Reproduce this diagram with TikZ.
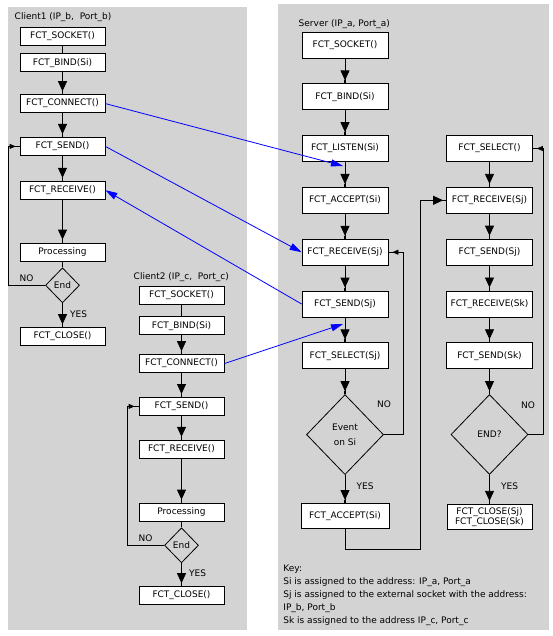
\documentclass[tikz,border=0pt]{standalone}
\usepackage{fontspec}
\setmainfont{DejaVu Sans}
\usetikzlibrary{shapes.geometric, arrows.meta, positioning}
\definecolor{panel}{RGB}{211,211,211}
\tikzset{
  cbox/.style={draw, fill=white, minimum width=85pt, minimum height=18pt, inner sep=1pt},
  sbox/.style={draw, fill=white, minimum width=86pt, minimum height=26pt, inner sep=1pt},
  cond/.style={diamond, draw, inner sep=0pt, align=center},
  flow/.style={draw, -{Triangle[width=9pt,length=10pt,sep=0pt]Rectangle[width=0.4pt,length=3pt]}},
  back/.style={draw, -{Triangle[width=5pt,length=6pt,sep=0pt]Rectangle[width=0.4pt,length=4pt]}},
  msg/.style={draw=blue, -{Triangle[width=7pt,length=12pt]}}
}

\begin{document}
\begin{tikzpicture}[x=1pt, y=-1pt, node distance=25pt, line width=0.8pt,
    font=\fontsize{9}{11}\selectfont]
    \useasboundingbox (0,0) rectangle (552,636);
    % Panels
    \fill[panel] (8,7) rectangle (247,630);
    \fill[panel] (278,4) rectangle (549,630);

    % Client1
    \node [anchor=west] (c1title) at (11,17) {Client1 (IP\_b, \ Port\_b)};
    \node [cbox] (c1sock) at (62.5,36) {FCT\_SOCKET()};
    \node [cbox, below=8pt of c1sock] (c1bind) {FCT\_BIND(Si)};
    \node [cbox, below=22pt of c1bind] (c1conn) {FCT\_CONNECT()};
    \node [cbox, below=24pt of c1conn] (c1send) {FCT\_SEND()};
    \node [cbox, below=25pt of c1send] (c1recv) {FCT\_RECEIVE()};
    \node [cbox, below=43pt of c1recv] (c1proc) {Processing};
    \node [cond, minimum width=34pt, minimum height=35pt, below=6pt of c1proc] (c1end) {End};
    \node [cbox, below=24pt of c1end] (c1close) {FCT\_CLOSE()};

    \path [draw] (c1sock) -- (c1bind);
    \path [flow] (c1bind) -- (c1conn);
    \path [flow] (c1conn) -- (c1send);
    \path [flow] (c1send) -- (c1recv);
    \path [flow] (c1recv) -- (c1proc);
    \path [draw] (c1proc) -- (c1end);
    \path [flow] (c1end) -- node [right=4pt, pos=0.45] {YES} (c1close);
    \path [back] (c1end.west) -- node [above] {NO} ++(-37,0) |- (c1send.west);

    % Client2
    \node [anchor=west] (c2title) at (130,277) {Client2 (IP\_c, \ Port\_c)};
    \node [cbox] (c2sock) at (181.5,295) {FCT\_SOCKET()};
    \node [cbox, below=12pt of c2sock] (c2bind) {FCT\_BIND(Si)};
    \node [cbox, below=19pt of c2bind] (c2conn) {FCT\_CONNECT()};
    \node [cbox, below=24pt of c2conn] (c2send) {FCT\_SEND()};
    \node [cbox, below=24pt of c2send] (c2recv) {FCT\_RECEIVE()};
    \node [cbox, below=44pt of c2recv] (c2proc) {Processing};
    \node [cond, minimum width=34pt, minimum height=35pt, below=6pt of c2proc] (c2end) {End};
    \node [cbox, below=23pt of c2end] (c2close) {FCT\_CLOSE()};

    \path [draw] (c2sock) -- (c2bind);
    \path [flow] (c2bind) -- (c2conn);
    \path [flow] (c2conn) -- (c2send);
    \path [flow] (c2send) -- (c2recv);
    \path [flow] (c2recv) -- (c2proc);
    \path [draw] (c2proc) -- (c2end);
    \path [flow] (c2end) -- node [right=4pt, pos=0.45] {YES} (c2close);
    \path [back] (c2end.west) -- node [above] {NO} ++(-37,0) |- (c2send.west);

    % Server
    \node [anchor=west] (stitle) at (295,24) {Server (IP\_a, Port\_a)};
    \node [sbox] (ssock) at (345,45) {FCT\_SOCKET()};
    \node [sbox, below=of ssock] (sbind) {FCT\_BIND(Si)};
    \node [sbox, below=of sbind] (slisten) {FCT\_LISTEN(Si)};
    \node [sbox, below=of slisten] (saccept) {FCT\_ACCEPT(Si)};
    \node [sbox, below=of saccept] (srecv) {FCT\_RECEIVE(Sj)};
    \node [sbox, below=of srecv] (ssend) {FCT\_SEND(Sj)};
    \node [sbox, below=of ssend] (sselect) {FCT\_SELECT(Sj)};
    \node [cond, minimum width=77pt, minimum height=80pt, below=of sselect,
        font=\fontsize{9}{15}\selectfont] (sevent) {Event\\on Si};
    \node [sbox, minimum width=88pt, minimum height=25pt, below=28pt of sevent] (saccept2) {FCT\_ACCEPT(Si)};
    \node (sno) at (384,404) {NO};

    \path [flow] (ssock) -- (sbind);
    \path [flow] (sbind) -- (slisten);
    \path [flow] (slisten) -- (saccept);
    \path [flow] (saccept) -- (srecv);
    \path [flow] (srecv) -- (ssend);
    \path [flow] (ssend) -- (sselect);
    \path [flow] (sselect) -- (sevent);
    \path [flow] (sevent) -- node [right=8pt, pos=0.4] {YES} (saccept2);
    \path [back] (sevent.east) -- ++(19,0) |- (srecv.east);

    % Server, per client socket
    \node [sbox] (rselect) at (489.5,148.5) {FCT\_SELECT()};
    \node [sbox, below=of rselect] (rrecv) {FCT\_RECEIVE(Sj)};
    \node [sbox, below=of rrecv] (rsend) {FCT\_SEND(Sj)};
    \node [sbox, below=of rsend] (rrecvk) {FCT\_RECEIVE(Sk)};
    \node [sbox, below=of rrecvk] (rsendk) {FCT\_SEND(Sk)};
    \node [cond, minimum width=77pt, minimum height=80pt, below=of rsendk] (rend) {END?};
    \node [sbox, minimum width=85pt, minimum height=25pt, align=center, below=29pt of rend,
        font=\fontsize{9}{10}\selectfont] (rclose) {FCT\_CLOSE(Sj)\\FCT\_CLOSE(Sk)};
    \node (rno) at (528,405) {NO};

    \path [flow] (rselect) -- (rrecv);
    \path [flow] (rrecv) -- (rsend);
    \path [flow] (rsend) -- (rrecvk);
    \path [flow] (rrecvk) -- (rsendk);
    \path [flow] (rsendk) -- (rend);
    \path [flow] (rend) -- node [right=8pt, pos=0.4] {YES} (rclose);
    \path [back] (rend.east) -- ++(15,0) |- (rselect.east);

    \coordinate (sturn) at (420,549);
    \path [flow] (saccept2.south) |- (sturn) |- (rrecv.west);

    % Messages
    \coordinate (listenin) at (343,166);
    \coordinate (sendin) at (343,324);
    \path [msg] (c1conn.east) -- (listenin);
    \path [msg] (c1send.east) -- (srecv.west);
    \path [msg] (ssend.west) -- (c1recv.east);
    \path [msg] (c2conn.east) -- (sendin);

    % Key
    \node [anchor=north west, align=left, inner sep=0pt, font=\fontsize{9}{13}\selectfont] (key) at (283,565)
        {Key:\\
         Si is assigned to the address: IP\_a, Port\_a\\
         Sj is assigned to the external socket with the address:\\
         IP\_b, Port\_b\\
         Sk is assigned to the address IP\_c, Port\_c};
\end{tikzpicture}
\end{document}
